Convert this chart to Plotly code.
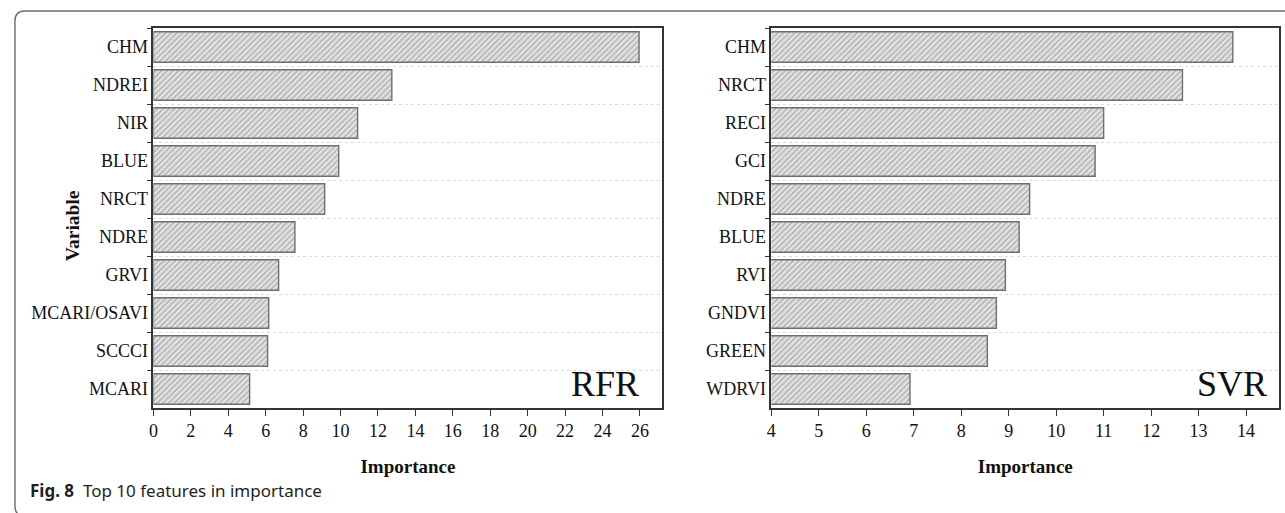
import plotly.graph_objects as go

# Top-10 variable importance for the two regression models
rfr_vars = ["CHM", "NDREI", "NIR", "BLUE", "NRCT", "NDRE", "GRVI",
            "MCARI/OSAVI", "SCCCI", "MCARI"]
rfr_imp = [25.95, 12.74, 10.91, 9.90, 9.15, 7.56, 6.69, 6.16, 6.10, 5.14]

svr_vars = ["CHM", "NRCT", "RECI", "GCI", "NDRE", "BLUE", "RVI",
            "GNDVI", "GREEN", "WDRVI"]
svr_imp = [13.72, 12.66, 11.00, 10.82, 9.44, 9.22, 8.93, 8.74, 8.55, 6.92]

W, H = 1285, 513
SERIF = "Liberation Serif, Times New Roman, serif"
SANS = "Noto Sans, Open Sans, sans-serif"


def px_x(p):
    return p / W


def px_y(p):
    return 1 - p / H


bar_style = dict(
    color="#e2e2e2",
    line=dict(color="#6e6e6e", width=1.4),
    pattern=dict(shape="/", size=4, solidity=0.3,
                 fgcolor="#6f6f6f", bgcolor="#e2e2e2"),
)

fig = go.Figure()
fig.add_trace(go.Bar(x=rfr_imp, y=rfr_vars, orientation="h", width=0.8,
                     marker=bar_style, xaxis="x", yaxis="y",
                     showlegend=False, hoverinfo="x+y"))
fig.add_trace(go.Bar(x=svr_imp, y=svr_vars, orientation="h", width=0.8,
                     marker=bar_style, xaxis="x2", yaxis="y2",
                     showlegend=False, hoverinfo="x+y"))

plot_top, plot_bot = 28, 408
ydom = [px_y(plot_bot), px_y(plot_top)]

common_x = dict(
    showline=True, linecolor="#333333", linewidth=1.6, mirror=True,
    ticks="outside", ticklen=6, tickwidth=1.3, tickcolor="#333333",
    showgrid=False, zeroline=False,
    tickfont=dict(family=SERIF, size=18, color="#111111"),
    title=dict(text="<b>Importance</b>",
               font=dict(family=SERIF, size=19, color="#111111"),
               standoff=19),
)
common_y = dict(
    type="category", autorange="reversed",
    showline=True, linecolor="#333333", linewidth=1.6, mirror=True,
    ticks="outside", ticklen=5, tickwidth=1.3, tickcolor="#333333",
    tickson="boundaries",
    showgrid=True, gridcolor="#dcdcdc", griddash="dot", gridwidth=1.4,
    zeroline=False,
    tickfont=dict(family=SERIF, size=18, color="#111111"),
    domain=ydom,
)

fig.update_layout(
    width=W, height=H,
    margin=dict(l=0, r=0, t=0, b=0),
    paper_bgcolor="white", plot_bgcolor="white",
    bargap=0.2,
    xaxis=dict(common_x, domain=[px_x(149), px_x(660)], range=[0, 27.2],
               dtick=2, tick0=0, anchor="y"),
    yaxis=dict(common_y, anchor="x", categoryorder="array",
               categoryarray=rfr_vars),
    xaxis2=dict(common_x, domain=[px_x(769.3), px_x(1279.3)],
                range=[4, 14.7], dtick=1, tick0=4, anchor="y2"),
    yaxis2=dict(common_y, anchor="x2", categoryorder="array",
                categoryarray=svr_vars),
)

# Y-axis title for the left panel
fig.add_annotation(text="<b>Variable</b>", textangle=-90,
                   x=px_x(55), y=px_y(226), xref="paper", yref="paper",
                   showarrow=False,
                   font=dict(family=SERIF, size=19.5, color="#111111"))

# Model names inside each panel
fig.add_annotation(text="RFR", x=px_x(638), y=px_y(398),
                   xref="paper", yref="paper", xanchor="right",
                   yanchor="bottom", yshift=-8, showarrow=False,
                   font=dict(family=SERIF, size=36, color="#111111"))
fig.add_annotation(text="SVR", x=px_x(1269), y=px_y(398),
                   xref="paper", yref="paper", xanchor="right",
                   yanchor="bottom", yshift=-8, showarrow=False,
                   font=dict(family=SERIF, size=36, color="#111111"))

# Figure caption
fig.add_annotation(
    text="<b>Fig. 8</b>  Top 10 features in importance",
    x=px_x(23), y=px_y(490), xref="paper", yref="paper",
    xanchor="left", yanchor="middle", showarrow=False,
    font=dict(family=SANS, size=17, color="#231f20"))

# Rounded outer frame, open to the right and at the bottom edge
L, T, B, R, r = 10, 11, 516, W + 5, 10
path = (f"M {px_x(R)},{px_y(T)} L {px_x(L + r)},{px_y(T)} "
        f"Q {px_x(L)},{px_y(T)} {px_x(L)},{px_y(T + r)} "
        f"L {px_x(L)},{px_y(B - r)} "
        f"Q {px_x(L)},{px_y(B)} {px_x(L + r)},{px_y(B)} "
        f"L {px_x(R)},{px_y(B)}")
fig.add_shape(type="path", path=path, xref="paper", yref="paper",
              line=dict(color="#6a6a6a", width=1.4))

fig.write_html("out.html")
